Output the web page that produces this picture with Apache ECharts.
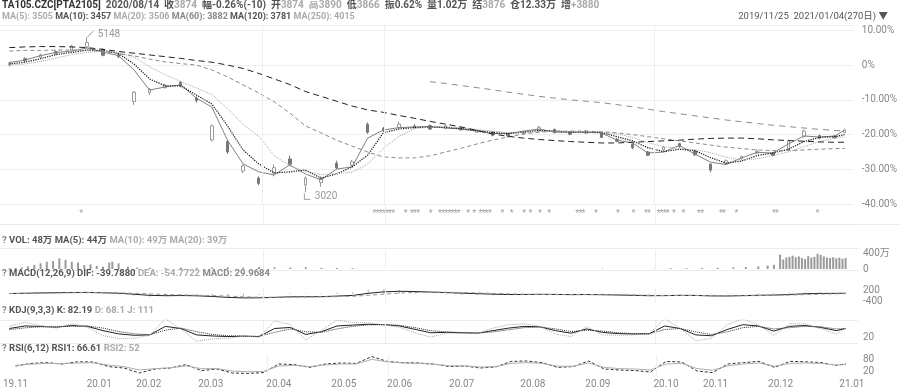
<!DOCTYPE html>
<html><head><meta charset="utf-8">
<script src="https://cdn.jsdelivr.net/npm/echarts@6/dist/echarts.min.js"></script>
<style>html,body{margin:0;padding:0;background:#fff}#c{width:900px;height:392px}</style>
</head><body><div id="c"></div>
<script>
// ---------- data ----------
const days = [0,5,10,15,20,25,30,35,40,45,50,55,60,65,70,75,80,85,90,95,100,105,110,115,120,125,130,135,140,145,150,155,160,165,170,175,180,185,190,195,200,205,210,215,220,225,230,235,240,245,250,255,260,265,268];
// candles: [open, close, low, high] in % vs first close
const candles = [
[0,0.5,-0.5,1.0],[1.8,1.2,0.8,2.2],[2.2,2.9,1.9,3.3],[3.8,3.4,3.0,4.2],[4.3,5.4,4.0,5.8],
[5.2,6.5,4.8,8.0],[4.5,2.8,2.5,4.8],[3.0,2.4,2.0,3.2],[-10.5,-7.8,-11.5,-7.5],[-8.0,-7.0,-8.6,-6.6],
[-6.5,-5.8,-6.8,-5.4],[-5.0,-6.0,-6.4,-4.6],[-9.5,-10.2,-10.8,-9.0],[-21.5,-17.5,-22.0,-17.0],[-22.0,-25.0,-25.5,-21.5],
[-30.5,-29.0,-31.0,-28.5],[-32.5,-34.0,-34.5,-32.0],[-31.0,-29.5,-32.0,-28.5],[-27.0,-28.5,-29.0,-26.0],[-34.5,-32.5,-36.6,-32.0],
[-33.8,-32.5,-35.0,-32.0],[-28.2,-29.5,-30.0,-27.5],[-28.8,-27.8,-29.3,-27.3],[-17.0,-19.3,-19.8,-16.5],[-18.2,-18.9,-19.3,-17.8],
[-18.0,-17.0,-18.3,-16.3],[-17.5,-17.8,-18.2,-17.0],[-17.4,-18.4,-18.7,-17.1],[-18.2,-17.5,-18.5,-17.2],[-18.0,-18.6,-18.9,-17.7],
[-19.3,-18.8,-19.5,-18.5],[-19.2,-20.2,-20.5,-19.0],[-19.8,-20.4,-20.8,-19.5],[-19.8,-19.2,-20.1,-18.9],[-18.8,-17.9,-19.1,-17.5],
[-18.5,-19.4,-19.7,-18.3],[-19.2,-19.9,-20.2,-19.0],[-19.6,-19.0,-19.8,-18.6],[-19.5,-20.8,-21.0,-19.3],[-21.3,-21.9,-22.2,-21.0],
[-22.8,-23.8,-24.2,-22.5],[-25.0,-25.9,-26.2,-24.7],[-24.4,-23.6,-24.8,-23.3],[-22.6,-23.4,-23.8,-22.3],[-24.8,-25.8,-26.1,-24.5],
[-28.5,-30.2,-30.8,-28.2],[-28.4,-27.5,-28.7,-27.1],[-26.9,-26.3,-27.2,-26.0],[-25.3,-24.8,-25.6,-24.2],[-25.3,-26.0,-26.3,-25.0],
[-24.4,-21.8,-24.7,-21.4],[-20.5,-19.0,-20.8,-18.5],[-20.3,-21.0,-21.3,-20.0],[-20.4,-20.9,-21.2,-20.1],[-19.4,-18.7,-19.6,-18.3]
];
const ma5 = [0.7,1.4,2.7,3.6,4.0,4.9,3.7,2.7,-1.4,-7.2,-6.3,-5.7,-9.5,-12.1,-21.6,-28.4,-30.7,-31.6,-28.7,-31.3,-33.0,-29.9,-29.3,-21.0,-18.7,-18.0,-17.8,-17.7,-18.1,-18.4,-19.0,-19.7,-19.7,-19.0,-18.4,-19.3,-19.3,-19.3,-19.5,-21.6,-22.4,-25.3,-25.0,-23.1,-25.6,-27.9,-28.6,-26.7,-25.1,-25.3,-22.7,-20.4,-20.7,-20.4,-18.7];
const ma10 = [0.3,0.8,1.8,3.0,3.6,4.3,4.2,3.3,0.3,-4.0,-6.0,-6.0,-8.6,-11.2,-17.5,-24.4,-28.4,-31.0,-30.7,-30.2,-32.5,-31.3,-29.3,-25.9,-19.5,-18.4,-18.0,-17.8,-17.9,-18.3,-18.8,-19.4,-19.7,-19.3,-18.8,-19.0,-19.3,-19.3,-19.4,-20.6,-21.8,-23.8,-24.9,-24.2,-24.6,-26.6,-28.2,-27.6,-26.0,-25.3,-24.2,-22.0,-20.8,-20.6,-20.0];
const ma20 = [0,0.3,1.0,2.0,3.0,3.6,4.0,3.6,2.3,-0.5,-2.8,-4.8,-6.6,-8.5,-12.5,-17.0,-20.5,-26.0,-29.0,-30.5,-31.5,-31.2,-30.8,-28.5,-24.0,-20.5,-18.3,-17.8,-17.8,-18.0,-18.5,-19.0,-19.4,-19.5,-19.1,-19.0,-19.2,-19.2,-19.3,-19.8,-20.8,-22.3,-23.5,-24.0,-24.3,-25.2,-26.5,-27.3,-27.0,-26.0,-25.0,-23.5,-22.0,-21.0,-20.6];
const ma60 = [4.0,4.2,4.2,4.3,4.3,4.2,4.0,3.3,2.6,1.7,0.9,0.4,0.0,-1.4,-3.4,-5.7,-8.0,-10.6,-13.8,-17.5,-19.5,-21.6,-23.3,-25.0,-26.4,-26.7,-26.7,-26.1,-25.0,-23.9,-22.7,-21.6,-20.7,-19.8,-19.3,-19.0,-19.0,-19.0,-19.2,-19.5,-20.0,-20.6,-21.2,-21.8,-22.4,-23.0,-23.6,-24.0,-24.4,-24.6,-24.6,-24.4,-24.2,-24.0,-24.0];
const ma120 = [5.0,5.2,5.3,5.3,5.2,5.0,4.5,3.9,3.4,2.9,2.4,1.9,1.3,0.8,0.0,-1.0,-2.4,-4.0,-5.6,-7.6,-9.0,-10.4,-11.8,-12.9,-13.6,-14.5,-15.3,-16.2,-17.0,-17.8,-18.8,-19.8,-20.5,-21.0,-21.4,-21.7,-22.0,-22.2,-22.4,-22.4,-22.2,-22.0,-21.8,-21.6,-21.3,-21.1,-21.0,-21.0,-21.2,-21.5,-21.7,-21.9,-22.1,-22.2,-22.2];
const ma250 = [null,null,null,null,null,null,null,null,null,null,null,null,null,null,null,null,null,null,null,null,null,null,null,null,null,null,null,-4.8,-5.3,-5.9,-6.5,-7.1,-7.8,-8.4,-9.0,-9.5,-10.0,-10.4,-10.8,-11.4,-12.0,-12.7,-13.4,-14.0,-14.6,-15.2,-15.8,-16.3,-16.8,-17.3,-17.7,-18.1,-18.5,-18.8,-19.0];
const extremes = [{day:25, pct:8.0, text:'5148', kind:'high'}, {day:95, pct:-36.6, text:'3020', kind:'low'}];
const signalDays = [23,117,118,119,120,121,122,123,127,129,130,131,135,138,139,140,141,142,143,144,147,149,151,152,153,154,158,161,165,167,170,173,182,183,184,188,195,200,204,205,208,209,210,211,213,216,221,222,228,229,233,245,246,259];
const volDays = [0,2,4,6,8,10,12,14,16,18,20,22,24,26,28,30,32,33,35,38,41,45,50,55,60,65,70,75,80,85,90,95,100,105,110,190,207,212,217,222,227,232,236,240,243,245,247,248,249,250,251,252,253,254,255,256,257,258,259,260,261,262,263,264,265,266,267,268];
const vol = [20,25,40,70,110,150,190,210,280,240,190,170,100,120,85,60,170,190,150,60,40,30,25,35,30,40,45,35,50,40,35,45,30,25,20,10,15,20,20,25,30,40,50,70,90,110,380,250,300,320,350,310,330,290,260,340,300,320,400,370,330,300,290,310,280,300,270,290];
const dif = [10,25,40,55,65,70,50,25,-30,-90,-110,-100,-115,-150,-200,-230,-225,-200,-170,-165,-160,-130,-95,20,100,130,120,90,60,30,0,-25,-45,-45,-35,-40,-50,-45,-55,-70,-90,-110,-105,-90,-95,-120,-125,-105,-85,-75,-45,-5,15,20,25];
const dea = [5,15,28,40,52,60,58,48,25,-10,-45,-65,-80,-100,-130,-165,-190,-195,-190,-180,-172,-160,-140,-90,-30,30,70,85,80,65,45,20,-10,-28,-38,-50,-50,-48,-50,-58,-70,-88,-96,-95,-95,-105,-114,-112,-103,-92,-75,-50,-25,-8,2];
const macdHist = [10,20,24,30,26,20,-16,-46,-110,-160,-130,-70,-70,-100,-140,-130,-70,-10,40,30,24,60,90,220,260,200,100,10,-40,-70,-90,-90,-70,-34,6,20,0,6,-10,-24,-40,-44,-18,10,0,-30,-22,14,36,34,60,90,80,56,46];
const kVals = [60,72,70,66,74,70,50,35,28,30,70,60,30,25,22,24,22,60,65,32,45,72,76,80,78,72,56,40,42,40,38,50,62,70,68,50,38,58,42,36,34,35,72,60,30,26,55,78,72,48,70,74,65,50,60];
const dVals = [55,63,68,68,70,72,62,46,35,31,52,62,45,32,26,24,23,42,58,45,42,58,70,77,78,75,64,50,44,41,39,44,54,64,67,58,46,52,48,40,36,35,55,60,44,32,44,64,70,58,64,70,68,58,59];
const jVals = [70,90,74,62,82,66,26,13,14,28,106,56,0,11,14,24,20,96,79,6,51,100,88,86,78,66,40,20,38,38,36,62,78,82,70,34,22,70,30,28,30,35,106,60,2,14,77,106,76,28,82,82,59,34,62];
const rsi1 = [45,58,62,55,66,65,42,35,10,30,35,52,22,30,10,8,12,55,52,38,55,60,58,92,68,62,60,55,42,45,35,40,68,70,62,38,42,70,30,25,22,15,68,65,20,12,55,62,68,38,68,66,62,48,56];
const rsi2 = [48,54,58,56,60,61,50,42,25,32,36,45,32,32,20,16,18,45,48,42,50,55,55,78,66,60,58,54,46,46,40,42,58,62,58,44,44,60,38,32,30,25,55,58,32,24,46,55,60,44,58,60,58,50,52];
const monthDays = [0,27,43,63,85,106,124,144,167,188,210,226,247,270];
const monthLabels = ['19.11','20.01','20.02','20.03','20.04','20.05','20.06','20.07','20.08','20.09','20.10','20.11','20.12','21.01'];
const vLineDays = [81.3,120.4,206.9];
const volTicks = {0:'0', 400:'400万'};
const macdTicks = {200:'200', '-400':'-400'};
const kdjTicks = {20:'20'};
const rsiTicks = {80:'80', 20:'20'};

const header1 = [['TA105.CZC[PTA2105]','k'],['  2020/08/14','d'],['  收','d'],['3874','l'],['  幅','d'],['-0.26%(-10)','d'],['  开','d'],['3874','l'],['  高','l'],['3890','l'],['  低','d'],['3866','l'],['  振','d'],['0.62%','d'],['  量','d'],['1.02万','d'],['  结','d'],['3876','l'],['  仓','d'],['12.33万','d'],['  增','d'],['+3880','l']];
const header2 = [['MA(5): 3505','l'],[' MA(10): 3457','d'],[' MA(20): 3506','l'],[' MA(60): 3882','m'],[' MA(120): 3781','d'],[' MA(250): 4015','l']];
const volTitle = [['? ','m'],['VOL: 48万','d'],[' MA(5): 44万','d'],[' MA(10): 49万','l'],[' MA(20): 39万','l']];
const macdTitle = [['? ','m'],['MACD(12,26,9)','d'],[' DIF: -39.7880','d'],[' DEA: -54.7722','l'],[' MACD: 29.9684','m']];
const kdjTitle = [['? ','m'],['KDJ(9,3,3)','d'],[' K: 82.19','d'],[' D: 68.1','l'],[' J: 111','l']];
const rsiTitle = [['? ','m'],['RSI(6,12)','d'],[' RSI1: 66.61','d'],[' RSI2: 52','l']];
const rangeText = '2019/11/25  2021/01/04(270日) ▼';

// ---------- build ----------
const FONT = 'Roboto, "Noto Sans CJK SC", sans-serif';
const pair = arr => days.map((d, i) => [d, arr[i]]);
const mkRich = fs => ({
  k:{color:'#333', fontSize:fs, fontFamily:FONT},
  d:{color:'#555', fontSize:fs, fontFamily:FONT},
  m:{color:'#888', fontSize:fs, fontFamily:FONT},
  l:{color:'#aaa', fontSize:fs, fontFamily:FONT}
});
const richStr = segs => segs.map(s => '{' + s[1] + '|' + s[0] + '}').join('');
const mkTitle = (segs, left, top, fs) => ({text: richStr(segs), left, top, padding:0, itemGap:0, textStyle:{fontSize:fs, fontFamily:FONT, rich:mkRich(fs)}});

const GL = 0, GR = 45, XMIN = -3, XMAX = 271;
const grids = [
  {left:GL, right:GR, top:25, height:179.2},
  {left:GL, right:GR, top:205, height:19},
  {left:GL, right:GR, top:250, height:19},
  {left:GL, right:GR, top:288.2, height:14.67},
  {left:GL, right:GR, top:320, height:23.4},
  {left:GL, right:GR, top:355, height:20}
];
const xAxes = grids.map((g, i) => ({
  type:'value', gridIndex:i, min:XMIN, max:XMAX,
  axisLine:{show: i===1, lineStyle:{color:'#e8e8e8'}}, axisTick:{show:false}, splitLine:{show:false},
  axisLabel: i === 5 ? {show:true, customValues: monthDays, formatter: v => monthLabels[monthDays.indexOf(v)] || '', color:'#888', fontSize:10, fontFamily:FONT, margin:4} : {show:false}
}));
const lab = (map) => ({show:true, color:'#888', fontSize:10, fontFamily:FONT, margin:8, formatter: v => map[v] !== undefined ? map[v] : ''});
const yAxes = [
  {type:'value', gridIndex:0, position:'right', min:-40, max:11.5, interval:10,
   axisLine:{show:false}, axisTick:{show:false}, splitLine:{show:true, lineStyle:{color:'#efefef'}},
   axisLabel:{show:true, showMaxLabel:false, color:'#888', fontSize:10, fontFamily:FONT, margin:8, formatter: v => v === 0 ? '0%' : v.toFixed(2) + '%'}},
  {type:'value', gridIndex:1, min:0, max:1, show:false},
  {type:'value', gridIndex:2, position:'right', min:0, max:500, interval:100, axisLine:{show:false}, axisTick:{show:false}, splitLine:{show:false}, axisLabel:lab(volTicks)},
  {type:'value', gridIndex:3, position:'right', min:-500, max:300, interval:100, axisLine:{show:false}, axisTick:{show:false}, splitLine:{show:false}, axisLabel:lab(macdTicks)},
  {type:'value', gridIndex:4, position:'right', min:-10, max:100, interval:10, axisLine:{show:false}, axisTick:{show:false}, splitLine:{show:false}, axisLabel:lab(kdjTicks)},
  {type:'value', gridIndex:5, position:'right', min:0, max:100, interval:10, axisLine:{show:false}, axisTick:{show:false}, splitLine:{show:false}, axisLabel:lab(rsiTicks)}
];
const vMark = {silent:true, symbol:'none', label:{show:false}, animation:false, lineStyle:{color:'#eeeeee', type:'solid', width:1}, data: vLineDays.map(d => ({xAxis:d}))};
const line = (name, arr, xi, color, type, width, extra) => Object.assign({
  name, type:'line', xAxisIndex:xi, yAxisIndex:xi, data:pair(arr), symbol:'none', silent:true,
  lineStyle:{color, type, width: width || 1}, connectNulls:false
}, extra || {});

const series = [
  {type:'candlestick', xAxisIndex:0, yAxisIndex:0, barWidth:3, silent:true,
   data: days.map((d, i) => [d].concat(candles[i])),
   itemStyle:{color:'#ffffff', color0:'#777777', borderColor:'#9a9a9a', borderColor0:'#777777', borderWidth:1},
   markPoint:{silent:true, animation:false, data: extremes.map(e => ({
     coord:[e.day, e.pct], value:e.text,
     symbol: e.kind === 'high' ? 'path://M0,10L10,0' : 'path://M0,0L0,10L10,10',
     symbolSize:[6,6], symbolOffset: e.kind === 'high' ? [3,-3] : [2,4],
     itemStyle:{color:'none', borderColor:'#999', borderWidth:1},
     label:{show:true, formatter:e.text, position:'right', distance:2, color:'#999', fontSize:10, fontFamily:FONT}
   }))}},
  line('MA5', ma5, 0, '#808080', 'solid', 1, {markLine:vMark}),
  line('MA10', ma10, 0, '#111111', 'dotted', 1.2),
  line('MA20', ma20, 0, '#a8a8a8', 'dotted', 1),
  line('MA60', ma60, 0, '#8a8a8a', [4,3], 1),
  line('MA120', ma120, 0, '#222222', [6,4], 1),
  line('MA250', ma250, 0, '#8c8c8c', [6,5], 1),
  {type:'scatter', xAxisIndex:1, yAxisIndex:1, silent:true, symbolSize:1,
   data: signalDays.map(d => [d, 0.53]), itemStyle:{color:'rgba(0,0,0,0)'},
   label:{show:true, position:'inside', formatter:'*', color:'#888', fontSize:9, fontFamily:FONT}, markLine:vMark},
  {type:'bar', xAxisIndex:2, yAxisIndex:2, barWidth:2, silent:true, data: volDays.map((d, i) => [d, vol[i]]), itemStyle:{color:'#9a9a9a'}, markLine:vMark},
  {type:'bar', xAxisIndex:3, yAxisIndex:3, barWidth:1, silent:true, data: pair(macdHist), itemStyle:{color:'#b0b0b0'}, markLine:vMark},
  line('DIF', dif, 3, '#222222', 'solid', 1),
  line('DEA', dea, 3, '#999999', [4,3], 1),
  line('K', kVals, 4, '#222222', 'solid', 1, {markLine:vMark}),
  line('D', dVals, 4, '#333333', 'dotted', 1),
  line('J', jVals, 4, '#aaaaaa', 'dotted', 1),
  line('RSI1', rsi1, 5, '#333333', [3,2], 1, {markLine:vMark}),
  line('RSI2', rsi2, 5, '#b0b0b0', 'solid', 1)
];

const sep = (y, x2) => ({type:'line', silent:true, shape:{x1:0, y1:y, x2:x2, y2:y}, style:{stroke:'#ececec', lineWidth:1}});
const option = {
  animation:false,
  backgroundColor:'#ffffff',
  title:[
    mkTitle(header1, 2, 1, 10),
    mkTitle(header2, 2, 12, 9),
    {text: rangeText, right: 12, top: 12, padding:0, textStyle:{fontSize:9.5, fontFamily:FONT, color:'#555', fontWeight:'normal'}},
    mkTitle(volTitle, 2, 236, 9.5),
    mkTitle(macdTitle, 2, 269, 9.5),
    mkTitle(kdjTitle, 2, 306, 9.5),
    mkTitle(rsiTitle, 2, 344, 9.5)
  ],
  grid: grids, xAxis: xAxes, yAxis: yAxes, series,
  graphic:[sep(224.5, 900), sep(248.5, 858), sep(270.5, 858), sep(320.5, 858), sep(343.5, 858)]
};
const chart = echarts.init(document.getElementById('c'), null, {renderer:'canvas'});
chart.setOption(option);
</script>
</body></html>
